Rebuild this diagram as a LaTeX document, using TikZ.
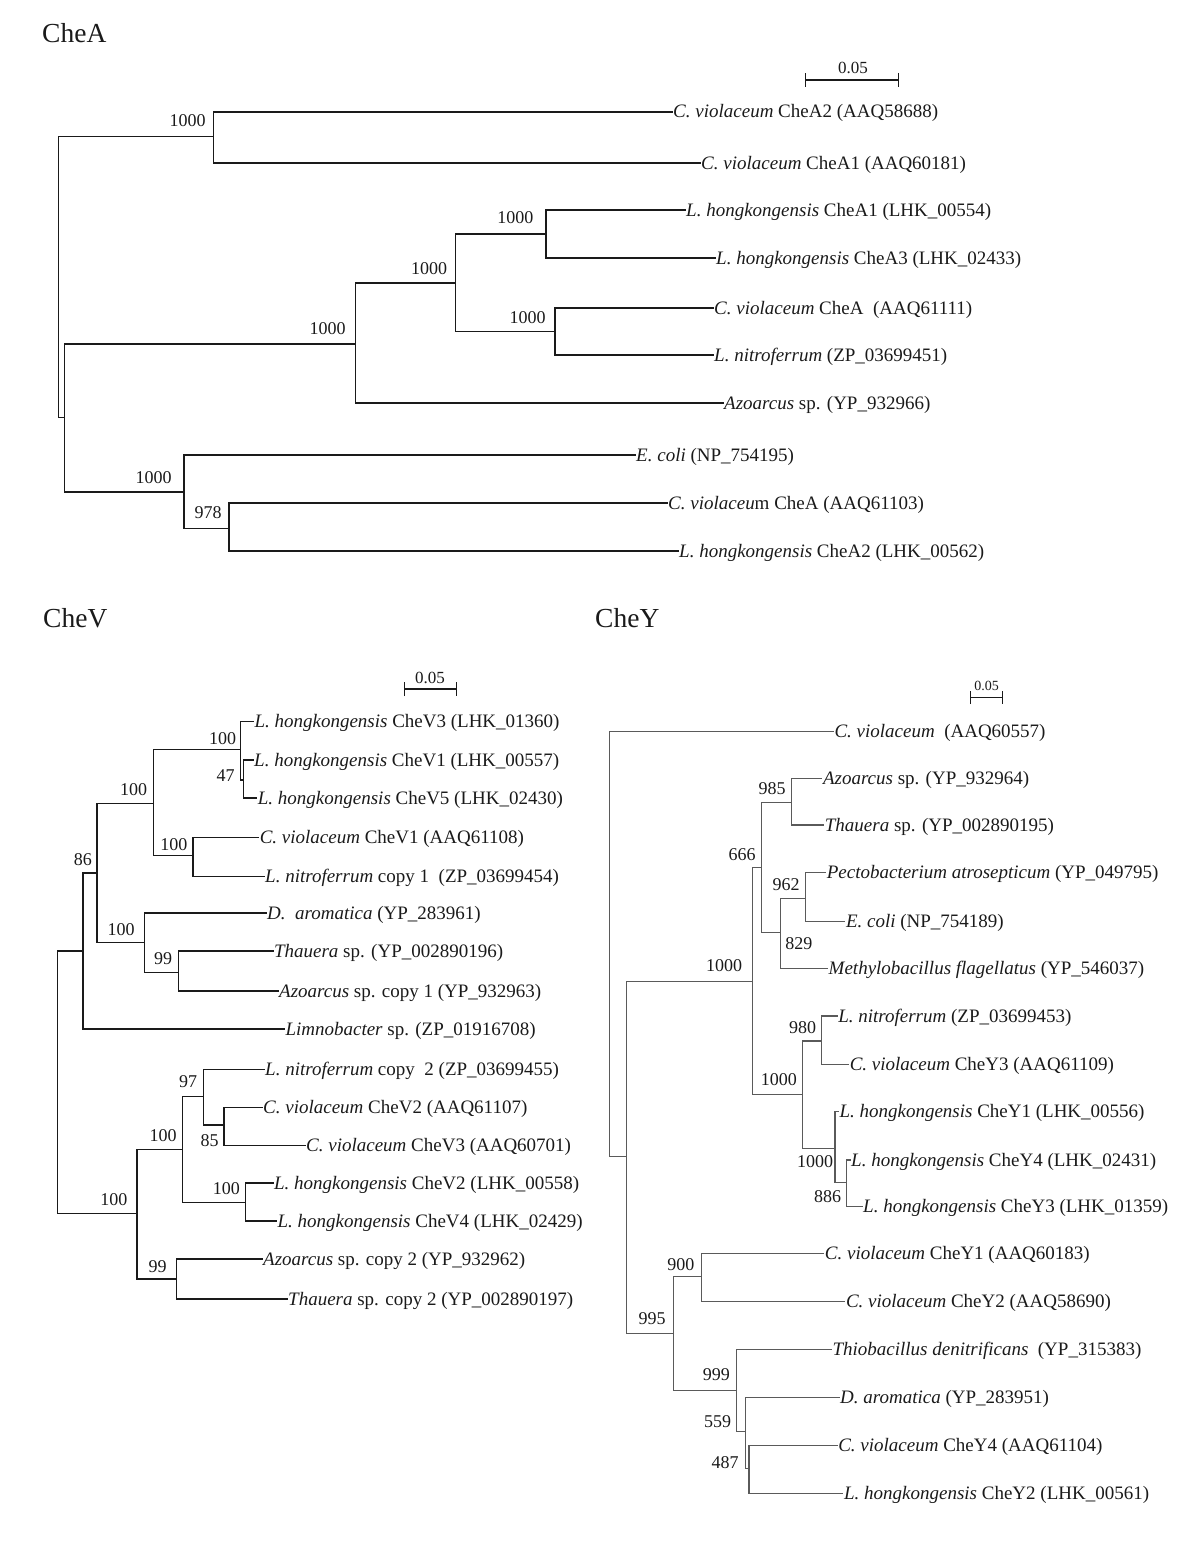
\documentclass[tikz,border=0pt]{standalone}
\usepackage{fontspec}
\setmainfont{Liberation Serif}
\usetikzlibrary{arrows.meta}
\definecolor{ink}{HTML}{1A1A1A}
\definecolor{greyBr}{HTML}{5A5A5A}
\tikzset{
  ptitle/.style={font=\fontsize{27.5}{30}\selectfont,text=ink,anchor=base west,inner sep=0pt},
  leaf/.style={font=\fontsize{19}{22}\selectfont,text=ink,anchor=west,inner xsep=1pt,inner ysep=0pt,
    text height=13pt,text depth=1pt},
  boot/.style={font=\fontsize{18}{20}\selectfont,text=ink,inner sep=0pt},
  sctxt/.style={font=\fontsize{17}{20}\selectfont,text=ink,inner sep=0pt},
  brA/.style={draw=ink,line width=1.5pt,line cap=rect},
  brV/.style={draw=ink,line width=1.4pt,line cap=rect},
  brY/.style={draw=greyBr,line width=1.1pt,line cap=rect},
  sbar/.style={draw=ink,line width=1.3pt,{Bar[width=14pt]}-{Bar[width=14pt]}}}

\begin{document}
\begin{tikzpicture}[x=1pt,y=-1pt]
\useasboundingbox (0,0) rectangle (1200,1544);
% ---- CheA
\node[ptitle] (tA) at (42,43) {CheA};
\coordinate (sA1) at (805,80);\coordinate (sA2) at (899,80);
\draw[sbar] (sA1) -- (sA2);
\node[sctxt] (sAt) at (853,68) {0.05};
\node[leaf] (a1) at (672,112) {\textit{C. violaceum} CheA2 (AAQ58688)};
\node[leaf] (a2) at (700,163) {\textit{C. violaceum} CheA1 (AAQ60181)};
\node[leaf] (a3) at (685,210) {\textit{L. hongkongensis} CheA1 (LHK\_00554)};
\node[leaf] (a4) at (715,258) {\textit{L. hongkongensis} CheA3 (LHK\_02433)};
\node[leaf] (a5) at (713,308) {\textit{C. violaceum} CheA~ (AAQ61111)};
\node[leaf] (a6) at (713,355) {\textit{L. nitroferrum} (ZP\_03699451)};
\node[leaf] (a7) at (723,403) {\textit{Azoarcus} sp. (YP\_932966)};
\node[leaf] (a8) at (635,455) {\textit{E. coli} (NP\_754195)};
\node[leaf] (a9) at (667,503) {\textit{C. violaceu}m CheA (AAQ61103)};
\node[leaf] (a10) at (678,551) {\textit{L. hongkongensis} CheA2 (LHK\_00562)};
\coordinate (rA) at (58.7,277);
\coordinate (nA1) at (213.7,136.7);
\coordinate (nA2) at (64.4,417.7);
\coordinate (nA3) at (355.7,344);
\coordinate (nA4) at (455.6,283);
\coordinate (nA5) at (545.9,234);
\coordinate (nA6) at (555,331.7);
\coordinate (nA7) at (183.8,492);
\coordinate (nA8) at (229,528.7);
\draw[brA] (rA) |- (nA1) (rA) |- (nA2);
\draw[brA] (nA1) |- (a1.west) (nA1) |- (a2.west);
\draw[brA] (nA2) |- (nA3) (nA2) |- (nA7);
\draw[brA] (nA3) |- (nA4) (nA3) |- (a7.west);
\draw[brA] (nA4) |- (nA5) (nA4) |- (nA6);
\draw[brA] (nA5) |- (a3.west) (nA5) |- (a4.west);
\draw[brA] (nA6) |- (a5.west) (nA6) |- (a6.west);
\draw[brA] (nA7) |- (a8.west) (nA7) |- (nA8);
\draw[brA] (nA8) |- (a9.west) (nA8) |- (a10.west);
\node[boot] (bA1) at (187.7,120.7) {1000};
\node[boot] (bA5) at (515.3,217.7) {1000};
\node[boot] (bA4) at (429.2,269) {1000};
\node[boot] (bA6) at (527.5,317.3) {1000};
\node[boot] (bA3) at (327.7,328.3) {1000};
\node[boot] (bA7) at (153.6,477.7) {1000};
\node[boot] (bA8) at (208,512.7) {978};
% ---- CheV
\node[ptitle] (tV) at (43,627) {CheV};
\coordinate (sV1) at (404,689);\coordinate (sV2) at (457,689);
\draw[sbar] (sV1) -- (sV2);
\node[sctxt] (sVt) at (430,678) {0.05};
\node[leaf] (v1) at (253.3,721.7) {\textit{L. hongkongensis} CheV3 (LHK\_01360)};
\node[leaf] (v2) at (253,760) {\textit{L. hongkongensis} CheV1 (LHK\_00557)};
\node[leaf] (v3) at (256.7,798) {\textit{L. hongkongensis} CheV5 (LHK\_02430)};
\node[leaf] (v4) at (258.6,837.2) {\textit{C. violaceum} CheV1 (AAQ61108)};
\node[leaf] (v5) at (264,876.5) {\textit{L. nitroferrum} copy 1~ (ZP\_03699454)};
\node[leaf] (v6) at (266,913) {\textit{D.~ aromatica} (YP\_283961)};
\node[leaf] (v7) at (272.9,951) {\textit{Thauera} sp. (YP\_002890196)};
\node[leaf] (v8) at (278,991) {\textit{Azoarcus} sp. copy 1 (YP\_932963)};
\node[leaf] (v9) at (284.3,1029) {\textit{Limnobacter} sp. (ZP\_01916708)};
\node[leaf] (v10) at (264,1069.3) {\textit{L. nitroferrum} copy~ 2 (ZP\_03699455)};
\node[leaf] (v11) at (262,1107.3) {\textit{C. violaceum} CheV2 (AAQ61107)};
\node[leaf] (v12) at (305,1145.2) {\textit{C. violaceum} CheV3 (AAQ60701)};
\node[leaf] (v13) at (272.9,1183) {\textit{L. hongkongensis} CheV2 (LHK\_00558)};
\node[leaf] (v14) at (276.4,1221) {\textit{L. hongkongensis} CheV4 (LHK\_02429)};
\node[leaf] (v15) at (262,1259) {\textit{Azoarcus} sp. copy 2 (YP\_932962)};
\node[leaf] (v16) at (287,1299) {\textit{Thauera} sp. copy 2 (YP\_002890197)};
\coordinate (rV) at (57.5,1080);
\coordinate (nV86) at (82.9,951.1);
\coordinate (nVa) at (96.8,873);
\coordinate (nVb) at (153.2,803.5);
\coordinate (nVc) at (240.7,749.5);
\coordinate (nV47) at (243.3,780);
\coordinate (nVe) at (192.9,855.4);
\coordinate (nVd) at (144.3,942.7);
\coordinate (nV99a) at (178.2,972.2);
\coordinate (nVf) at (137.1,1213.6);
\coordinate (nVg) at (182.5,1149.5);
\coordinate (nV97) at (203.2,1096.7);
\coordinate (nV85) at (223.9,1125);
\coordinate (nVh) at (245.4,1202.2);
\coordinate (nV99b) at (176.4,1279);
\draw[brV] (rV) |- (nV86) (rV) |- (nVf);
\draw[brV] (nV86) |- (nVa) (nV86) |- (v9.west);
\draw[brV] (nVa) |- (nVb) (nVa) |- (nVd);
\draw[brV] (nVb) |- (nVc) (nVb) |- (nVe);
\draw[brV] (nVc) |- (v1.west) (nVc) |- (nV47);
\draw[brV] (nV47) |- (v2.west) (nV47) |- (v3.west);
\draw[brV] (nVe) |- (v4.west) (nVe) |- (v5.west);
\draw[brV] (nVd) |- (v6.west) (nVd) |- (nV99a);
\draw[brV] (nV99a) |- (v7.west) (nV99a) |- (v8.west);
\draw[brV] (nVf) |- (nVg) (nVf) |- (nV99b);
\draw[brV] (nVg) |- (nV97) (nVg) |- (nVh);
\draw[brV] (nV97) |- (v10.west) (nV97) |- (nV85);
\draw[brV] (nV85) |- (v11.west) (nV85) |- (v12.west);
\draw[brV] (nVh) |- (v13.west) (nVh) |- (v14.west);
\draw[brV] (nV99b) |- (v15.west) (nV99b) |- (v16.west);
\node[boot] (bVc) at (222.5,738.3) {100};
\node[boot] (bV47) at (225.7,775.5) {47};
\node[boot] (bVb) at (133.6,790) {100};
\node[boot] (bV86) at (82.9,859.6) {86};
\node[boot] (bVe) at (173.9,844.8) {100};
\node[boot] (bVd) at (121,930) {100};
\node[boot] (bV99a) at (163.2,958.7) {99};
\node[boot] (bV97) at (188.2,1082) {97};
\node[boot] (bVg) at (163.2,1136) {100};
\node[boot] (bV85) at (209.6,1140.2) {85};
\node[boot] (bVh) at (226.4,1188.3) {100};
\node[boot] (bVf) at (113.9,1200) {100};
\node[boot] (bV99b) at (157.5,1266.3) {99};
% ---- CheY
\node[ptitle] (tY) at (595,627) {CheY};
\coordinate (sY1) at (970,697.7);\coordinate (sY2) at (1002.7,697.7);
\draw[sbar,line width=1pt,{Bar[width=13pt]}-{Bar[width=13pt]}] (sY1) -- (sY2);
\node[sctxt,font=\fontsize{14}{16}\selectfont] (sYt) at (986.7,686) {0.05};
\node[leaf] (y1) at (833.3,731.7) {\textit{C. violaceum}~ (AAQ60557)};
\node[leaf] (y2) at (821.8,778.3) {\textit{Azoarcus} sp. (YP\_932964)};
\node[leaf] (y3) at (823.7,825) {\textit{Thauera} sp. (YP\_002890195)};
\node[leaf] (y4) at (825.6,872.3) {\textit{Pectobacterium atrosepticum} (YP\_049795)};
\node[leaf] (y5) at (844.8,921.7) {\textit{E. coli} (NP\_754189)};
\node[leaf] (y6) at (827.5,968.3) {\textit{Methylobacillus flagellatus} (YP\_546037)};
\node[leaf] (y7) at (837.1,1016) {\textit{L. nitroferrum} (ZP\_03699453)};
\node[leaf] (y8) at (848.6,1064.3) {\textit{C. violaceum} CheY3 (AAQ61109)};
\node[leaf] (y9) at (838.3,1111.7) {\textit{L. hongkongensis} CheY1 (LHK\_00556)};
\node[leaf] (y10) at (850,1160) {\textit{L. hongkongensis} CheY4 (LHK\_02431)};
\node[leaf] (y11) at (862,1206.7) {\textit{L. hongkongensis} CheY3 (LHK\_01359)};
\node[leaf] (y12) at (823.7,1253.5) {\textit{C. violaceum} CheY1 (AAQ60183)};
\node[leaf] (y13) at (844.8,1301.2) {\textit{C. violaceum} CheY2 (AAQ58690)};
\node[leaf] (y14) at (831.4,1349.2) {\textit{Thiobacillus denitrificans}~ (YP\_315383)};
\node[leaf] (y15) at (839,1397.5) {\textit{D. aromatica} (YP\_283951)};
\node[leaf] (y16) at (837.1,1445.2) {\textit{C. violaceum} CheY4 (AAQ61104)};
\node[leaf] (y17) at (842.9,1493.5) {\textit{L. hongkongensis} CheY2 (LHK\_00561)};
\coordinate (rY) at (609.2,944);
\coordinate (nY1) at (626.4,1156.8);
\coordinate (nYa) at (752.8,981.7);
\coordinate (nY666) at (761.3,867.3);
\coordinate (nY985) at (791.9,802.3);
\coordinate (nY829) at (780.4,932.3);
\coordinate (nY962) at (805.3,898.3);
\coordinate (nYb) at (802.6,1094.3);
\coordinate (nY980) at (821.8,1041);
\coordinate (nYc) at (835,1148.3);
\coordinate (nY886) at (846.7,1182.7);
\coordinate (nY995) at (673.5,1333.5);
\coordinate (nY900) at (701.1,1276.8);
\coordinate (nY999) at (736.4,1390.2);
\coordinate (nY559) at (745.2,1431.8);
\coordinate (nY487) at (749,1468.5);
\draw[brY] (rY) |- (y1.west) (rY) |- (nY1);
\draw[brY] (nY1) |- (nYa) (nY1) |- (nY995);
\draw[brY] (nYa) |- (nY666) (nYa) |- (nYb);
\draw[brY] (nY666) |- (nY985) (nY666) |- (nY829);
\draw[brY] (nY985) |- (y2.west) (nY985) |- (y3.west);
\draw[brY] (nY829) |- (nY962) (nY829) |- (y6.west);
\draw[brY] (nY962) |- (y4.west) (nY962) |- (y5.west);
\draw[brY] (nYb) |- (nY980) (nYb) |- (nYc);
\draw[brY] (nY980) |- (y7.west) (nY980) |- (y8.west);
\draw[brY] (nYc) |- (y9.west) (nYc) |- (nY886);
\draw[brY] (nY886) |- (y10.west) (nY886) |- (y11.west);
\draw[brY] (nY995) |- (nY900) (nY995) |- (nY999);
\draw[brY] (nY900) |- (y12.west) (nY900) |- (y13.west);
\draw[brY] (nY999) |- (y14.west) (nY999) |- (nY559);
\draw[brY] (nY559) |- (y15.west) (nY559) |- (nY487);
\draw[brY] (nY487) |- (y16.west) (nY487) |- (y17.west);
\node[boot] (bY985) at (772,788.3) {985};
\node[boot] (bY666) at (742.1,854.3) {666};
\node[boot] (bY962) at (786.2,885) {962};
\node[boot] (bY829) at (798.8,943.7) {829};
\node[boot] (bYa) at (724.1,966) {1000};
\node[boot] (bY980) at (802.6,1028) {980};
\node[boot] (bYb) at (778.9,1080) {1000};
\node[boot] (bYc) at (815,1161.7) {1000};
\node[boot] (bY886) at (827.7,1196.7) {886};
\node[boot] (bY900) at (680.8,1264.2) {900};
\node[boot] (bY995) at (652,1318.5) {995};
\node[boot] (bY999) at (716.4,1374.5) {999};
\node[boot] (bY559) at (717.6,1421.2) {559};
\node[boot] (bY487) at (725.2,1463) {487};
\end{tikzpicture}
\end{document}
